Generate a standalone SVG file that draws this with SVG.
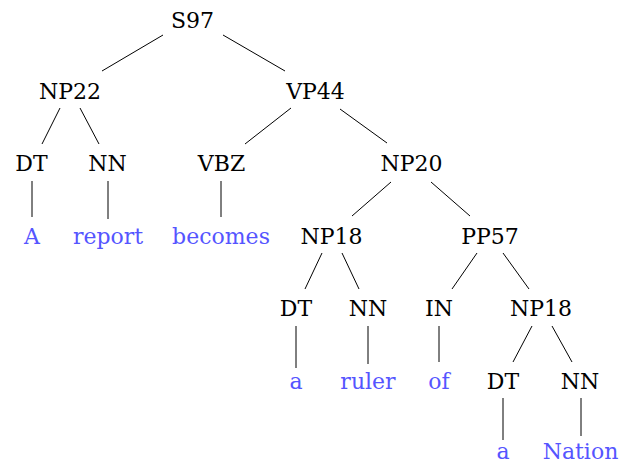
<svg xmlns="http://www.w3.org/2000/svg" width="624" height="464" viewBox="0 0 624 464" font-family="DejaVu Serif, serif" font-size="22">
<style>
text{text-anchor:middle}
.n{fill:#000}
.w{fill:#5555ff}
#edges line{stroke:#000;stroke-width:1}
</style>
<rect width="624" height="464" fill="#fff"/>
<g id="edges">
<line x1="163" y1="35" x2="102" y2="71"/>
<line x1="223" y1="35" x2="285" y2="71"/>
<line x1="60" y1="108" x2="42" y2="144"/>
<line x1="80" y1="108" x2="99" y2="144"/>
<line x1="291" y1="108" x2="245" y2="144"/>
<line x1="340" y1="109" x2="387" y2="143"/>
<line x1="32" y1="181" x2="32" y2="217"/>
<line x1="108" y1="181" x2="108" y2="219"/>
<line x1="221" y1="181" x2="221" y2="217"/>
<line x1="391" y1="182" x2="352" y2="216"/>
<line x1="431" y1="182" x2="470" y2="216"/>
<line x1="322" y1="253" x2="305" y2="289"/>
<line x1="342" y1="253" x2="359" y2="289"/>
<line x1="477" y1="253" x2="452" y2="289"/>
<line x1="503" y1="253" x2="529" y2="289"/>
<line x1="296" y1="326" x2="296" y2="368"/>
<line x1="368" y1="326" x2="368" y2="364"/>
<line x1="439" y1="326" x2="439" y2="362"/>
<line x1="532" y1="326" x2="513" y2="362"/>
<line x1="552" y1="326" x2="572" y2="362"/>
<line x1="503" y1="398" x2="503" y2="440"/>
<line x1="581" y1="398" x2="581" y2="436"/>
</g>
<g id="S97"><text class="n" x="192.5" y="28">S97</text></g>
<g id="NP22"><text class="n" x="70" y="99">NP22</text></g>
<g id="VP44"><text class="n" x="315.5" y="99">VP44</text></g>
<g id="DT1"><text class="n" x="31.5" y="171">DT</text></g>
<g id="NN1"><text class="n" x="107.5" y="171">NN</text></g>
<g id="VBZ"><text class="n" x="221.5" y="171">VBZ</text></g>
<g id="NP20"><text class="n" x="411.5" y="171">NP20</text></g>
<g id="w_A"><text class="w" x="32" y="244">A</text></g>
<g id="w_report"><text class="w" x="108" y="244">report</text></g>
<g id="w_becomes"><text class="w" x="221" y="244">becomes</text></g>
<g id="NP18a"><text class="n" x="331.5" y="244">NP18</text></g>
<g id="PP57"><text class="n" x="490" y="244">PP57</text></g>
<g id="DT2"><text class="n" x="296" y="316">DT</text></g>
<g id="NN2"><text class="n" x="368" y="316">NN</text></g>
<g id="IN"><text class="n" x="439" y="316">IN</text></g>
<g id="NP18b"><text class="n" x="541" y="316">NP18</text></g>
<g id="w_a1"><text class="w" x="296" y="389">a</text></g>
<g id="w_ruler"><text class="w" x="368" y="389">ruler</text></g>
<g id="w_of"><text class="w" x="439" y="389">of</text></g>
<g id="DT3"><text class="n" x="503" y="389">DT</text></g>
<g id="NN3"><text class="n" x="580" y="389">NN</text></g>
<g id="w_a2"><text class="w" x="503" y="458.5">a</text></g>
<g id="w_Nation"><text class="w" x="580.5" y="458.5">Nation</text></g>
</svg>
